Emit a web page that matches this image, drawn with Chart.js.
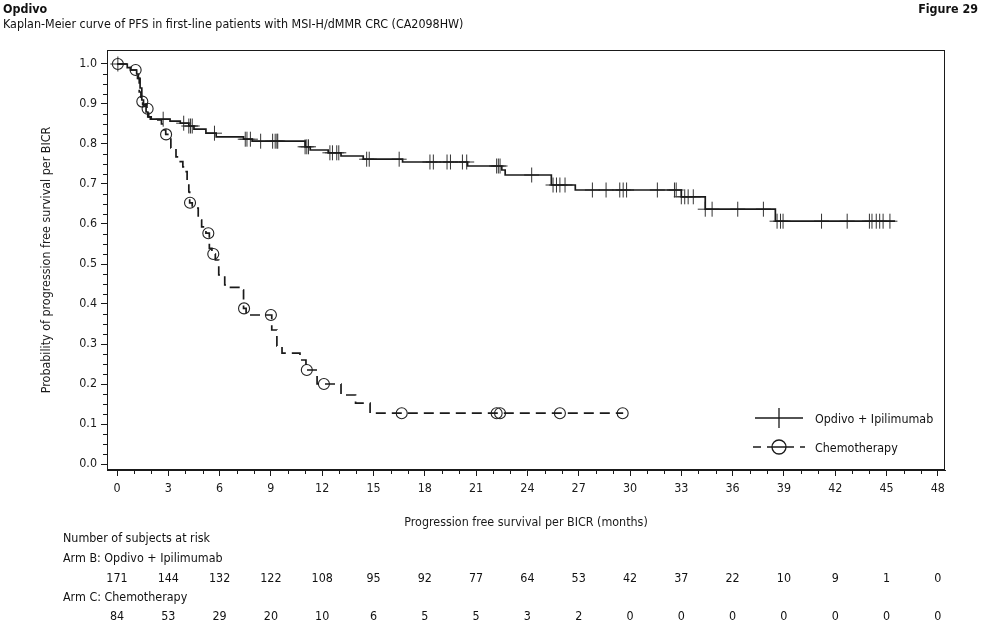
<!DOCTYPE html>
<html><head><meta charset="utf-8">
<script src="https://cdn.jsdelivr.net/npm/chart.js@4.4.1/dist/chart.umd.min.js"></script>
<style>
html,body{margin:0;padding:0;background:#fff;}
#wrap{position:relative;width:983px;height:622px;overflow:hidden;font-family:'Liberation Sans Narrow','DejaVu Sans Condensed','Roboto Condensed',sans-serif;color:#111;}
canvas{position:absolute;left:0;top:0;}
.t{position:absolute;white-space:nowrap;font-size:12.4px;line-height:15px;transform:translateY(-50%);}
.c{transform:translate(-50%,-50%);}
</style></head><body>
<div id="wrap">
<canvas id="c" width="983" height="622"></canvas>
<div class="t" style="left:3px;top:8px;font-weight:bold;font-size:12.4px">Opdivo</div>
<div class="t" style="right:5px;top:8px;font-weight:bold;font-size:12.4px">Figure 29</div>
<div class="t" style="left:3px;top:23px">Kaplan-Meier curve of PFS in first-line patients with MSI-H/dMMR CRC (CA2098HW)</div>
<div class="t" style="left:815px;top:418px">Opdivo + Ipilimumab</div>
<div class="t" style="left:815px;top:447px">Chemotherapy</div>
<div class="t" style="left:63px;top:537px">Number of subjects at risk</div>
<div class="t" style="left:63px;top:557px">Arm B: Opdivo + Ipilimumab</div>
<div class="t" style="left:63px;top:596px">Arm C: Chemotherapy</div>
<div id="risk"></div>
</div>
<script>
const xTickValues = [0,3,6,9,12,15,18,21,24,27,30,33,36,39,42,45,48];
const yTickValues = [0,0.1,0.2,0.3,0.4,0.5,0.6,0.7,0.8,0.9,1.0];

const opdivoTimes = [0,0.6,0.8,1.15,1.25,1.35,1.45,1.55,1.7,1.8,1.95,3.1,3.7,4.2,4.5,5.2,5.8,7.4,7.9,11.0,11.3,12.35,13.1,14.4,16.7,20.5,22.5,22.7,25.4,26.8,33.0,34.4,38.5,45.5];
const opdivoSurv  = [1.0,0.991,0.985,0.975,0.964,0.94,0.91,0.895,0.88,0.868,0.862,0.857,0.852,0.845,0.837,0.827,0.818,0.812,0.807,0.793,0.785,0.778,0.77,0.762,0.755,0.745,0.735,0.7225,0.6975,0.685,0.668,0.637,0.607,0.607];
const opdivoCensor = [0.05,2.7,3.9,4.2,4.3,4.4,5.7,7.5,7.6,7.8,8.4,9.1,9.25,9.35,9.4,11.0,11.1,11.2,12.45,12.6,12.85,12.97,14.6,14.75,16.5,18.3,18.5,19.3,19.5,20.2,20.45,22.2,22.3,22.4,24.25,25.5,25.7,25.9,26.2,27.8,28.6,29.4,29.6,29.8,31.6,32.6,32.7,33.0,33.2,33.4,33.7,34.4,34.8,36.3,37.8,38.6,38.8,38.95,41.2,42.7,44.0,44.15,44.4,44.6,44.8,45.2];

const chemoTimes = [0,0.6,0.8,1.2,1.3,1.4,1.5,1.75,1.85,2.0,2.6,2.75,2.85,3.15,3.45,3.7,3.85,3.95,4.1,4.2,4.25,4.4,4.75,4.95,5.2,5.4,5.55,5.75,5.95,6.3,6.55,7.25,7.4,7.55,9.05,9.35,9.65,10.7,11.05,11.7,13.1,13.95,14.8,29.6];
const chemoSurv  = [1.0,0.991,0.985,0.964,0.93,0.906,0.899,0.888,0.868,0.86,0.85,0.835,0.824,0.79,0.768,0.756,0.743,0.731,0.70,0.68,0.653,0.64,0.61,0.593,0.577,0.539,0.525,0.51,0.4725,0.4475,0.4417,0.435,0.389,0.3725,0.335,0.295,0.277,0.26,0.235,0.2,0.1725,0.152,0.127,0.127];
const chemoCensor = [0.05,1.09,1.48,1.79,2.87,4.27,5.34,5.63,7.43,9.0,11.1,12.1,16.65,22.2,22.4,25.9,29.57];

const riskTimes = [0,3,6,9,12,15,18,21,24,27,30,33,36,39,42,45,48];
const riskArmB = [171,144,132,122,108,95,92,77,64,53,42,37,22,10,9,1,0];
const riskArmC = [84,53,29,20,10,6,5,5,3,2,0,0,0,0,0,0,0];

const FONT = "'Liberation Sans Narrow','DejaVu Sans Condensed','Roboto Condensed',sans-serif";
const INK = '#1a1a1a';

function survAt(times, surv, t){
  let v = surv[0];
  for (let i=0;i<times.length;i++){ if (times[i] <= t) v = surv[i]; }
  return v;
}
const toPts = (ts, ss) => ts.map((t,i)=>({x:t, y:ss[i]}));
const censorPts = (cs, ts, ss) => cs.map(t=>({x:t, y:survAt(ts, ss, t)}));

const framePlugin = {
  id:'frame',
  afterDraw(chart){
    const {ctx, chartArea:a, scales:{x, y}} = chart;
    ctx.save();
    ctx.strokeStyle = INK; ctx.lineWidth = 1;
    ctx.strokeRect(a.left+0.5, a.top+0.5, a.right-a.left-1, a.bottom-a.top-1);
    ctx.beginPath();
    for (let v=0; v<=48; v+=1){ if (v%3===0) continue; const px=Math.round(x.getPixelForValue(v))+0.5; ctx.moveTo(px, a.bottom); ctx.lineTo(px, a.bottom+4); }
    for (let k=0; k<=40; k++){ if (k%4===0) continue; const py=Math.round(y.getPixelForValue(k*0.025))+0.5; ctx.moveTo(a.left, py); ctx.lineTo(a.left-4, py); }
    ctx.stroke();
    const cx = a.right - 166, y1 = 418, y2 = 447;
    ctx.lineWidth = 1.7;
    ctx.beginPath(); ctx.moveTo(cx-24, y1); ctx.lineTo(cx+24, y1); ctx.stroke();
    ctx.lineWidth = 1.3;
    ctx.beginPath(); ctx.moveTo(cx, y1-10); ctx.lineTo(cx, y1+10); ctx.stroke();
    ctx.lineWidth = 1.7;
    ctx.setLineDash([8,6]);
    ctx.beginPath(); ctx.moveTo(cx-26, y2); ctx.lineTo(cx-7, y2); ctx.moveTo(cx+7, y2); ctx.lineTo(cx+26, y2); ctx.stroke();
    ctx.setLineDash([]);
    ctx.lineWidth = 1.3;
    ctx.beginPath(); ctx.arc(cx, y2, 7, 0, Math.PI*2); ctx.moveTo(cx-7,y2); ctx.lineTo(cx+7,y2); ctx.stroke();
    ctx.restore();
  }
};

const chart = new Chart(document.getElementById('c'), {
  type:'scatter',
  data:{ datasets:[
    { data: toPts(opdivoTimes, opdivoSurv), showLine:true, stepped:'before', borderColor:INK, borderWidth:1.7, pointRadius:0 },
    { data: censorPts(opdivoCensor, opdivoTimes, opdivoSurv), showLine:false, pointStyle:'cross', pointRadius:7.5, borderColor:'#333', borderWidth:1, backgroundColor:'transparent' },
    { data: toPts(chemoTimes, chemoSurv), showLine:true, stepped:'before', borderColor:INK, borderWidth:1.7, borderDash:[10,6], pointRadius:0 },
    { data: censorPts(chemoCensor, chemoTimes, chemoSurv), showLine:false, pointStyle:'circle', pointRadius:5.5, borderColor:'#222', borderWidth:1.1, backgroundColor:'rgba(0,0,0,0)' }
  ]},
  options:{
    responsive:false, animation:false, devicePixelRatio: window.devicePixelRatio||1,
    layout:{ padding:{ left:0, top:50, right:38, bottom:92 } },
    plugins:{ legend:{display:false}, tooltip:{enabled:false} },
    scales:{
      x:{ type:'linear', min:-0.585, max:48.42,
        afterBuildTicks(s){ s.ticks = xTickValues.map(v=>({value:v})); },
        afterFit(s){ s.height = 60; },
        ticks:{ autoSkip:false, maxRotation:0, padding:5, color:INK, font:{family:FONT, size:12.4}, callback:v=>String(v) },
        grid:{ drawOnChartArea:false, drawTicks:true, tickLength:6, color:INK, lineWidth:1 },
        border:{ display:true, color:INK, width:1 },
        title:{ display:true, text:'Progression free survival per BICR (months)', color:INK, font:{family:FONT, size:12.4}, padding:{top:0,bottom:0} }
      },
      y:{ type:'linear', min:-0.015, max:1.035,
        afterBuildTicks(s){ s.ticks = yTickValues.map(v=>({value:v})); },
        afterFit(s){ s.width = 107; },
        ticks:{ autoSkip:false, padding:4, color:INK, font:{family:FONT, size:12.4}, callback:v=>Number(v).toFixed(1) },
        grid:{ drawOnChartArea:false, drawTicks:true, tickLength:6, color:INK, lineWidth:1 },
        border:{ display:true, color:INK, width:1 },
        title:{ display:true, text:'Probability of progression free survival per BICR', color:INK, font:{family:FONT, size:12.4}, padding:{top:39,bottom:0} }
      }
    }
  },
  plugins:[framePlugin]
});

const risk = document.getElementById('risk');
const xs = chart.scales.x;
riskTimes.forEach((t,i)=>{
  const px = xs.getPixelForValue(t);
  [[riskArmB[i],577],[riskArmC[i],615]].forEach(([v,yy])=>{
    const d = document.createElement('div');
    d.className = 't c';
    d.style.left = px+'px'; d.style.top = yy+'px';
    d.textContent = v;
    risk.appendChild(d);
  });
});
</script>
</body></html>
